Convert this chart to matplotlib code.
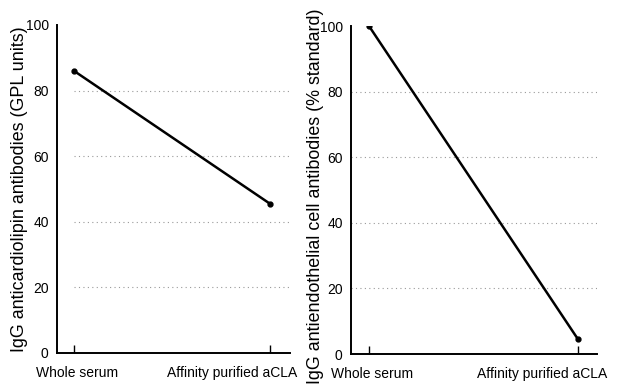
import matplotlib.pyplot as plt
from matplotlib.transforms import blended_transform_factory, ScaledTranslation

plt.rcParams['font.family'] = ['Liberation Sans', 'DejaVu Sans']

# Data
categories = ['Whole serum', 'Affinity purified aCLA']
acl_values = [86, 45.5]
aecl_values = [100, 4.5]
yticks = [0, 20, 40, 60, 80, 100]

fig = plt.figure(figsize=(6.17, 3.89), dpi=100)
ax1 = fig.add_axes([57 / 617, 1 - 353 / 389, 233 / 617, 328 / 389])
ax2 = fig.add_axes([351 / 617, 1 - 354 / 389, 246 / 617, 328 / 389])

panels = [
    (ax1, acl_values, 'IgG anticardiolipin antibodies (GPL units)', (-0.087, 1.102), -0.159, 0.5, 0.0, 27),
    (ax2, aecl_values, 'IgG antiendothelial cell antibodies (% standard)', (-0.086, 1.091), -0.146, 0.48, None, 29),
]

for ax, vals, ylabel, xlim, lab_x, lab_y, grid_start, aff_off in panels:
    x = list(range(len(categories)))
    ax.set_xlim(*xlim)
    ax.set_ylim(0, 100)

    # dotted reference lines
    gx0 = xlim[0] if grid_start is None else grid_start
    for yv in yticks[1:-1]:
        ax.plot([gx0, xlim[1]], [yv, yv], color='#999999', lw=0.8,
                linestyle=(0, (1, 3)), zorder=1)

    ax.plot(x, vals, color='black', lw=1.8, marker='o', markersize=3.5, zorder=3)

    for s in ['top', 'right']:
        ax.spines[s].set_visible(False)
    for s in ['left', 'bottom']:
        ax.spines[s].set_linewidth(1.4)

    ax.set_yticks(yticks)
    ax.set_yticklabels([str(t) for t in yticks], fontsize=10)
    ax.tick_params(axis='y', length=0, pad=6)

    ax.set_xticks(x)
    ax.set_xticklabels([])
    ax.tick_params(axis='x', direction='in', length=6, width=1)

    trans = blended_transform_factory(ax.transData, ax.transAxes)
    ax.text(x[0], -0.062, categories[0], ha='center', va='center', fontsize=10,
            transform=trans + ScaledTranslation(3 / 100, 0, fig.dpi_scale_trans))
    ax.text(x[1], -0.062, categories[1], ha='right', va='center', fontsize=10,
            transform=trans + ScaledTranslation(aff_off / 100, 0, fig.dpi_scale_trans))

    ax.text(lab_x, lab_y, ylabel, rotation=90, ha='center', va='center',
            fontsize=12.9, transform=ax.transAxes)

fig.savefig('out.png', dpi=100, facecolor='white')
